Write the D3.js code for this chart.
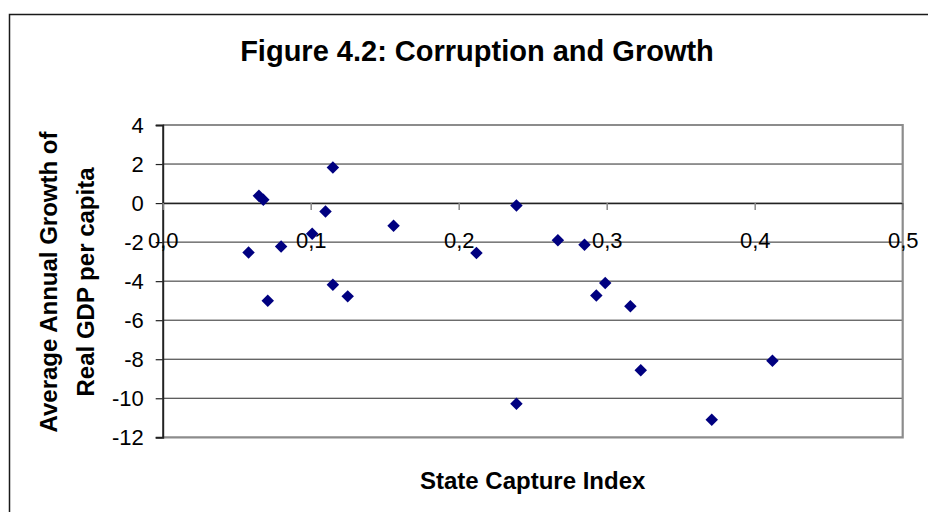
<!DOCTYPE html>
<html>
<head>
<meta charset="utf-8">
<script src="https://cdn.jsdelivr.net/npm/d3@7"></script>
<style>
  html, body { margin: 0; padding: 0; background: #fff; }
  svg { display: block; font-family: Arial, "Liberation Sans", sans-serif; }
</style>
</head>
<body>
<svg id="chart" width="928" height="512"></svg>
<script>
// ---- Data ----
const stateCapture = [0.058, 0.065, 0.068, 0.071, 0.080, 0.101, 0.110, 0.115, 0.115, 0.125, 0.156,
                      0.212, 0.239, 0.239, 0.267, 0.285, 0.293, 0.299, 0.316, 0.323, 0.371, 0.412];
const gdpGrowth   = [-2.53, 0.37, 0.17, -5.0, -2.22, -1.57, -0.43, 1.82, -4.18, -4.78, -1.16,
                     -2.56, -0.12, -10.28, -1.91, -2.13, -4.73, -4.10, -5.29, -8.56, -11.1, -8.08];
const xTicks = [0, 0.1, 0.2, 0.3, 0.4, 0.5];
const yTicks = [4, 2, 0, -2, -4, -6, -8, -10, -12];
const titleText = "Figure 4.2: Corruption and Growth";
const xTitle = "State Capture Index";
const yTitleLines = ["Average Annual Growth of", "Real GDP per capita"];

// ---- Layout ----
const svg = d3.select("#chart");
const pL = 162.7, pR = 902.7, pT = 125, pB = 437.3;
const FONT = "Arial, 'Liberation Sans', sans-serif";

const x = d3.scaleLinear().domain([0, 0.5]).range([pL, pR]);
const y = d3.scaleLinear().domain([-12, 4]).range([pB, pT]);

// outer chart border
svg.append("rect")
  .attr("x", 9.5).attr("y", 14.5).attr("width", 960).attr("height", 520)
  .attr("fill", "#fff").attr("stroke", "#1a1a1a").attr("stroke-width", 1.5);

// title
svg.append("text")
  .attr("x", 477).attr("y", 61)
  .attr("text-anchor", "middle")
  .attr("font-size", 29).attr("font-weight", "bold")
  .text(titleText);

// gridlines (inner)
svg.append("g").selectAll("line")
  .data(yTicks.filter(d => d !== 4 && d !== -12))
  .join("line")
  .attr("x1", pL).attr("x2", pR)
  .attr("y1", d => y(d)).attr("y2", d => y(d))
  .attr("stroke", "#2a2a2a").attr("stroke-width", 1);

// plot border (gray top, right, bottom)
svg.append("path")
  .attr("d", `M${pL},${pT}H${pR}V${pB}H${pL}`)
  .attr("fill", "none").attr("stroke", "#8c8c8c").attr("stroke-width", 2.2);

// y axis
const yAxis = d3.axisLeft(y).tickValues(yTicks).tickSize(7).tickPadding(12)
  .tickFormat(d3.format("d"));
const yg = svg.append("g").attr("transform", `translate(${pL},0)`).call(yAxis);
yg.select(".domain").attr("stroke", "#222").attr("stroke-width", 2);
yg.selectAll(".tick line").attr("stroke", "#222").attr("stroke-width", 1.2);
yg.selectAll(".tick text")
  .attr("font-size", 22).attr("font-family", FONT)
  .attr("fill", "#000")
  .text(d => d < 0 ? "-" + Math.abs(d) : d);

// x axis crossing at y=0
const xAxis = d3.axisBottom(x).tickValues(xTicks).tickSize(7).tickPadding(22)
  .tickFormat(d => d3.format(".1f")(d).replace(".", ","));
const xg = svg.append("g").attr("transform", `translate(0,${y(0)})`).call(xAxis);
xg.select(".domain").attr("stroke", "#222").attr("stroke-width", 1.2);
xg.selectAll(".tick line").attr("stroke", "#888").attr("stroke-width", 1.5);
xg.selectAll(".tick text")
  .attr("font-size", 22).attr("font-family", FONT)
  .attr("fill", "#000");

// points (diamonds)
const data = stateCapture.map((v, i) => ({ x: v, y: gdpGrowth[i] }));
const sym = d3.symbol().type(d3.symbolSquare).size(78);
svg.append("g").selectAll("path")
  .data(data)
  .join("path")
  .attr("d", sym)
  .attr("transform", d => `translate(${x(d.x)},${y(d.y)}) rotate(45)`)
  .attr("fill", "#000080");

// axis titles
svg.append("text")
  .attr("x", (pL + pR) / 2).attr("y", 489)
  .attr("text-anchor", "middle")
  .attr("font-size", 24).attr("font-weight", "bold")
  .text(xTitle);

const yt = svg.append("text")
  .attr("transform", `translate(57,282) rotate(-90)`)
  .attr("text-anchor", "middle")
  .attr("font-size", 24).attr("font-weight", "bold");
yt.selectAll("tspan").data(yTitleLines).join("tspan")
  .attr("x", 0).attr("dy", (d, i) => i === 0 ? 0 : 37)
  .text(d => d);
</script>
</body>
</html>
